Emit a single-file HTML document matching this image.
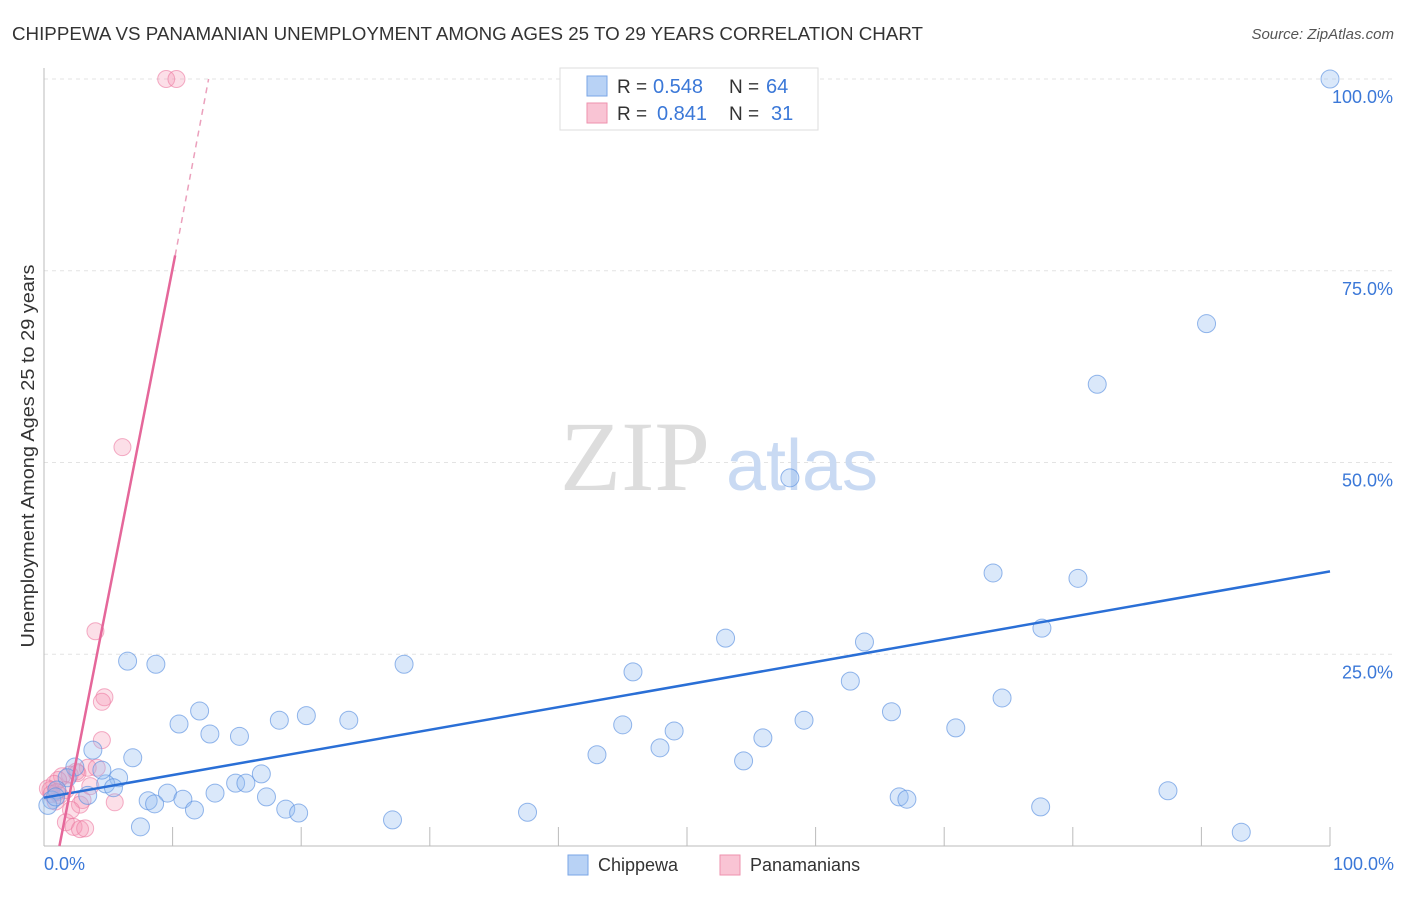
<!DOCTYPE html>
<html><head><meta charset="utf-8"><style>
body{margin:0;background:#fff;}
svg text{font-family:"Liberation Sans",sans-serif;}
</style></head><body>
<svg id="chart" width="1406" height="892">
<text x="12" y="40" font-size="18" fill="#333" textLength="911" lengthAdjust="spacingAndGlyphs">CHIPPEWA VS PANAMANIAN UNEMPLOYMENT AMONG AGES 25 TO 29 YEARS CORRELATION CHART</text>
<text x="1394" y="39" font-size="15" fill="#555" font-style="italic" text-anchor="end">Source: ZipAtlas.com</text>
<g id="grid"></g>
<text x="635" y="490" font-size="100" fill="#ddd" style="font-family:'Liberation Serif',serif" text-anchor="middle">ZIP</text>
<text x="802" y="490" font-size="72" fill="#c9daf3" text-anchor="middle">atlas</text>
<text transform="translate(34,456) rotate(-90)" font-size="18" fill="#333" text-anchor="middle" textLength="383" lengthAdjust="spacingAndGlyphs">Unemployment Among Ages 25 to 29 years</text>
<g id="pts"></g>
<g>
<rect x="560" y="68" width="258" height="62" fill="#fff" stroke="#ddd"/>
<rect x="587" y="76" width="20" height="20" fill="#b8d2f5" stroke="#7aa6e6"/>
<rect x="587" y="103" width="20" height="20" fill="#f9c4d4" stroke="#ee92ae"/>
<text x="617" y="93" font-size="19" fill="#333">R =</text>
<text x="653" y="93" font-size="20" fill="#3b78d8">0.548</text>
<text x="729" y="93" font-size="19" fill="#333">N =</text>
<text x="766" y="93" font-size="20" fill="#3b78d8">64</text>
<text x="617" y="120" font-size="19" fill="#333">R =</text>
<text x="657" y="120" font-size="20" fill="#3b78d8">0.841</text>
<text x="729" y="120" font-size="19" fill="#333">N =</text>
<text x="771" y="120" font-size="20" fill="#3b78d8">31</text>
</g>
<g>
<rect x="568" y="855" width="20" height="20" fill="#b8d2f5" stroke="#7aa6e6"/>
<text x="598" y="871" font-size="18" fill="#333">Chippewa</text>
<rect x="720" y="855" width="20" height="20" fill="#f9c4d4" stroke="#ee92ae"/>
<text x="750" y="871" font-size="18" fill="#333">Panamanians</text>
</g>
</svg>
<script>
const blueX=[100,90.4,81.9,58,73.8,80.4,77.6,53,63.8,45.8,28,62.7,74.5,65.9,70.9,59.1,49,45,55.9,47.9,43,54.4,87.4,66.5,67.1,77.5,93.1,37.6,27.1,6.5,8.7,12.1,10.5,12.9,15.2,18.3,20.4,23.7,6.9,3.8,16.9,14.9,15.7,5.8,4.8,4.5,13.3,9.6,10.8,8.1,8.6,11.7,17.3,18.8,19.8,7.5,5.4,3.4,2.4,1.8,1.0,0.6,0.3,0.9];
const blueY=[100,68.1,60.2,48,35.6,34.9,28.4,27.1,26.6,22.7,23.7,21.5,19.3,17.5,15.4,16.4,15,15.8,14.1,12.8,11.9,11.1,7.2,6.4,6.1,5.1,1.8,4.4,3.4,24.1,23.7,17.6,15.9,14.6,14.3,16.4,17,16.4,11.5,12.5,9.4,8.2,8.2,8.9,8.1,9.9,6.9,6.9,6.1,5.9,5.5,4.7,6.4,4.8,4.3,2.5,7.6,6.6,10.3,8.9,7.3,6,5.3,6.4];
const pinkX=[9.5,10.3,6.1,4.0,4.7,4.5,4.5,3.4,2.5,2.0,1.4,1.1,0.8,0.5,1.7,2.3,2.8,3.2,5.5,3.0,2.8,4.1,1.7,1.2,2.1,0.3,0.6,1.0,3.6,2.6,0.9];
const pinkY=[100,100,52,28,19.4,18.8,13.8,10.2,9.7,9.3,9.1,8.6,8.1,7.3,3.1,2.5,2.2,2.3,5.7,6.0,5.4,10.2,7.3,6.6,4.7,7.5,6.8,7.0,7.8,9.5,5.8];
const xTicks=[0,10,20,30,40,50,60,70,80,90,100];
const yTicks=[25,50,75,100];
const blueLine=[0,6.3,100,35.8];
const pinkLine=[1.2,0,10.2,77];
const pinkDash=[10.2,77,12.8,100];
const sx=v=>44+v*12.86, sy=v=>846-v*7.67;
const NS="http://www.w3.org/2000/svg";
const grid=document.getElementById('grid'), pts=document.getElementById('pts');
function mk(tag,attrs,parent){const e=document.createElementNS(NS,tag);for(const k in attrs)e.setAttribute(k,attrs[k]);parent.appendChild(e);return e;}
yTicks.forEach(t=>{
 const l=mk('line',{x1:44,x2:1395,y1:sy(t),y2:sy(t),stroke:'#e3e3e3','stroke-dasharray':'4,4'},grid);
 
 
 const tx=mk('text',{x:1393,y:sy(t)+24,'font-size':18,fill:'#3b78d8','text-anchor':'end'},grid);
 tx.textContent=t.toFixed(1)+'%';
 
 
});
const ax=mk('line',{x1:44,x2:1330,y1:846,y2:846,stroke:'#bbb'},grid);


const ay=mk('line',{x1:44,x2:44,y1:68,y2:846,stroke:'#bbb'},grid);


xTicks.forEach(t=>{
 const l=mk('line',{x1:sx(t),x2:sx(t),y1:827,y2:846,stroke:'#bbb'},grid);
 
 
});
[[0,'0.0%','start',44],[100,'100.0%','end',1394]].forEach(a=>{
 const tx=mk('text',{x:a[3],y:870,'font-size':18,fill:'#3b78d8','text-anchor':a[2]},grid);
 tx.textContent=a[1];
 
 
});
pinkX.forEach((x,i)=>{
 const c=mk('circle',{cx:sx(x),cy:sy(pinkY[i]),r:8.5,fill:'rgba(244,150,180,0.3)',stroke:'rgba(236,120,160,0.6)','stroke-width':1},pts);
 
 
});
blueX.forEach((x,i)=>{
 const c=mk('circle',{cx:sx(x),cy:sy(blueY[i]),r:9,fill:'rgba(150,190,240,0.35)',stroke:'rgba(90,145,225,0.65)','stroke-width':1},pts);
 
 
});
const bl=mk('line',{x1:sx(blueLine[0]),y1:sy(blueLine[1]),x2:sx(blueLine[2]),y2:sy(blueLine[3]),stroke:'#2a6fd6','stroke-width':2.5},pts);


const pl=mk('line',{x1:sx(pinkLine[0]),y1:sy(pinkLine[1]),x2:sx(pinkLine[2]),y2:sy(pinkLine[3]),stroke:'#e5679a','stroke-width':2.5},pts);


const pd=mk('line',{x1:sx(pinkDash[0]),y1:sy(pinkDash[1]),x2:sx(pinkDash[2]),y2:sy(pinkDash[3]),stroke:'#eba0bc','stroke-width':1.5,'stroke-dasharray':'6,5'},pts);


</script>
</body></html>
